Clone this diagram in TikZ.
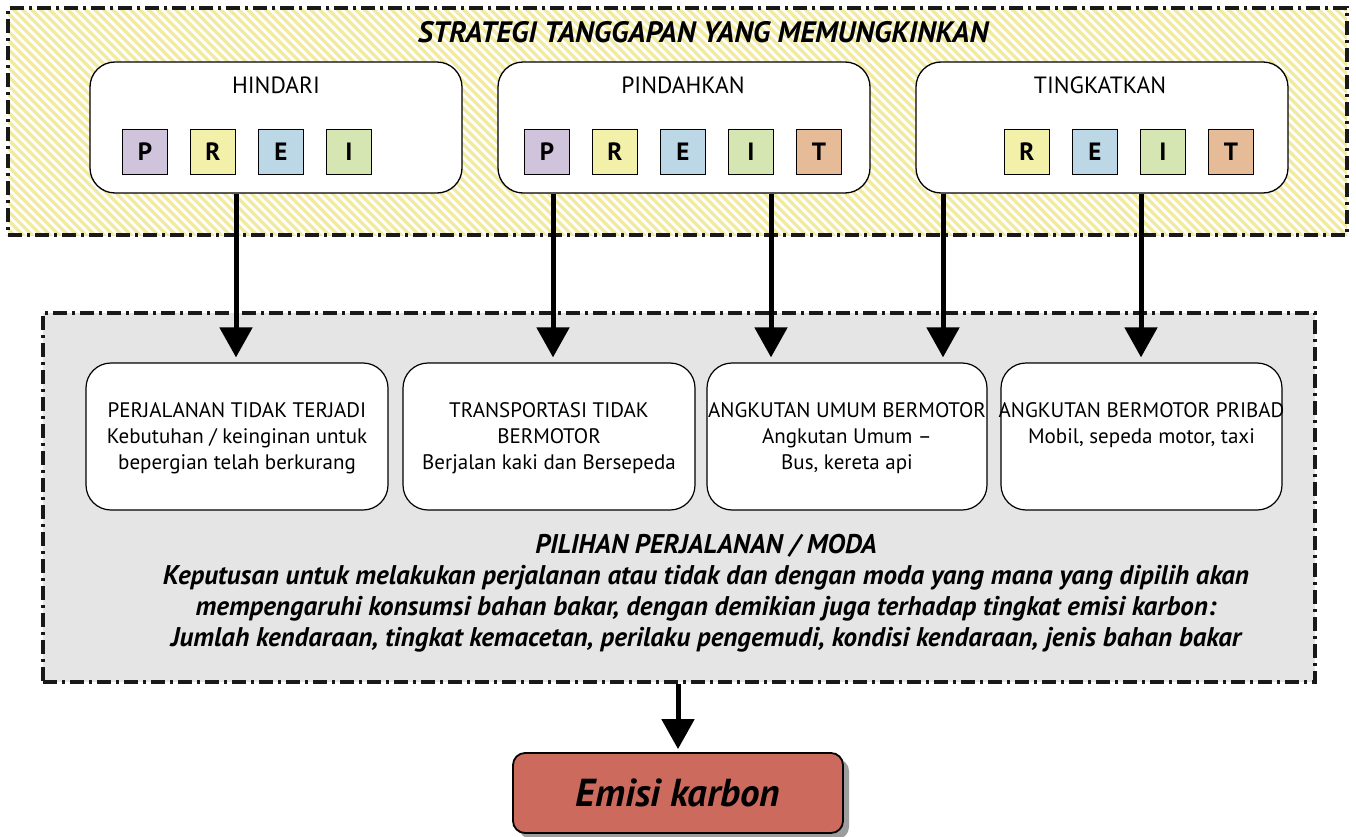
\documentclass[tikz,border=0pt]{standalone}
\usepackage{fontspec}
\setmainfont{PT Sans}
\usetikzlibrary{arrows.meta,shadows}
\definecolor{hatchY}{HTML}{F3EAA2}
\definecolor{regionGray}{HTML}{E4E5E4}
\definecolor{cP}{HTML}{D0C3DC}
\definecolor{cR}{HTML}{F3F0AA}
\definecolor{cE}{HTML}{BCD7E5}
\definecolor{cI}{HTML}{D5E6B3}
\definecolor{cT}{HTML}{E6BB98}
\definecolor{emis}{HTML}{CC6A5E}
\tikzset{
  dashdot/.style={draw=black!90, line width=3.2pt, dash pattern=on 14pt off 5pt on 3pt off 5pt},
  stratbox/.style={draw, line width=1.3pt, fill=white, rounded corners=25pt, minimum width=372pt, minimum height=131pt, inner sep=0pt},
  stitle/.style={font=\fontsize{23.5}{26}\selectfont},
  letter/.style={draw, line width=1.8pt, minimum width=45pt, minimum height=45pt, inner sep=0pt, font=\bfseries\fontsize{25}{28}\selectfont},
  modebox/.style={draw, line width=1.2pt, fill=white, rounded corners=25pt, minimum height=147pt, inner sep=0pt},
  modetext/.style={anchor=north, align=center, inner sep=0pt, font=\fontsize{21}{26}\selectfont},
  arr/.style={line width=5pt, -{Triangle[width=32pt,length=30pt]}, shorten >=5pt},
  bitext/.style={font=\bfseries\itshape\fontsize{27}{31}\selectfont, align=center},
}
\begin{document}
\begin{tikzpicture}[x=1pt,y=-1pt]
\useasboundingbox (0,0) rectangle (1356,837);
% gray region
\node[dashdot, fill=regionGray, minimum width=1272pt, minimum height=369pt, inner sep=0pt] (gray) at (679,497.5) {};
% hatched strategy region
\begin{scope}
  \clip (8,8) rectangle (1347,235);
  \foreach \i in {-240,-231,...,1350} \draw[hatchY, line width=3.4pt] (\i,8) -- ++(230,230);
\end{scope}
\node[dashdot, minimum width=1339pt, minimum height=227pt, inner sep=0pt] (strat) at (677.5,121.5) {};
\node[bitext, font=\bfseries\itshape\fontsize{29.5}{32}\selectfont] (stratT) at (703,32) {STRATEGI TANGGAPAN YANG MEMUNGKINKAN};
% strategy boxes
\node[stratbox] (hind) at (276,127.5) {};
\node[stratbox] (pind) at (684,127.5) {};
\node[stratbox] (ting) at (1102,127.5) {};
\node[stitle] (hindT) at (276,85) {HINDARI};
\node[stitle] (pindT) at (683,85) {PINDAHKAN};
\node[stitle] (tingT) at (1100,85) {TINGKATKAN};
% letters
\node[letter, fill=cP] (h1) at (145,152) {P};
\node[letter, fill=cR] (h2) at (213,152) {R};
\node[letter, fill=cE] (h3) at (281,152) {E};
\node[letter, fill=cI] (h4) at (349,152) {I};
\node[letter, fill=cP] (p1) at (547,152) {P};
\node[letter, fill=cR] (p2) at (615,152) {R};
\node[letter, fill=cE] (p3) at (683,152) {E};
\node[letter, fill=cI] (p4) at (751,152) {I};
\node[letter, fill=cT] (p5) at (819,152) {T};
\node[letter, fill=cR] (t1) at (1027,152) {R};
\node[letter, fill=cE] (t2) at (1095,152) {E};
\node[letter, fill=cI] (t3) at (1163,152) {I};
\node[letter, fill=cT] (t4) at (1231,152) {T};
% mode boxes
\node[modebox, minimum width=302pt] (b1) at (237,436.5) {};
\node[modebox, minimum width=292pt] (b2) at (549,436.5) {};
\node[modebox, minimum width=280pt] (b3) at (847,436.5) {};
\node[modebox, minimum width=281pt] (b4) at (1141.5,436.5) {};
\node[modetext] (b1t) at (237,402) {PERJALANAN TIDAK TERJADI\\Kebutuhan / keinginan untuk\\bepergian telah berkurang};
\node[modetext] (b2t) at (549,402) {TRANSPORTASI TIDAK\\BERMOTOR\\Berjalan kaki dan Bersepeda};
\node[modetext] (b3t) at (847,402) {ANGKUTAN UMUM BERMOTOR\\Angkutan Umum --\\Bus, kereta api};
\node[modetext] (b4t) at (1141.5,402) {ANGKUTAN BERMOTOR PRIBAD\\Mobil, sepeda motor, taxi};
% bottom texts
\node[bitext] (pil) at (706,546) {PILIHAN PERJALANAN / MODA};
\node[bitext] (kep) at (706,609) {Keputusan untuk melakukan perjalanan atau tidak dan dengan moda yang mana yang dipilih akan\\mempengaruhi konsumsi bahan bakar, dengan demikian juga terhadap tingkat emisi karbon:\\Jumlah kendaraan, tingkat kemacetan, perilaku pengemudi, kondisi kendaraan, jenis bahan bakar};
% emission box
\node[draw, line width=1.8pt, fill=emis, rounded corners=12pt, minimum width=330pt, minimum height=80pt, inner sep=0pt,
      drop shadow={shadow xshift=6pt, shadow yshift=-6pt, fill=black!70, opacity=0.55},
      font=\bfseries\itshape\fontsize{39}{44}\selectfont] (emisi) at (678,793) {Emisi karbon};
% arrows
\coordinate (x1) at (236,0);
\coordinate (x2) at (553,0);
\coordinate (x3) at (771,0);
\coordinate (x4) at (943,0);
\coordinate (x5) at (1141,0);
\coordinate (x6) at (678,0);
\draw[arr] (hind.south -| x1) -- (b1.north -| x1);
\draw[arr] (pind.south -| x2) -- (b2.north -| x2);
\draw[arr] (pind.south -| x3) -- (b3.north -| x3);
\draw[arr] (ting.south -| x4) -- (b3.north -| x4);
\draw[arr] (ting.south -| x5) -- (b4.north -| x5);
\draw[arr, shorten >=3pt] (gray.south -| x6) -- (emisi.north -| x6);
\end{tikzpicture}
\end{document}
